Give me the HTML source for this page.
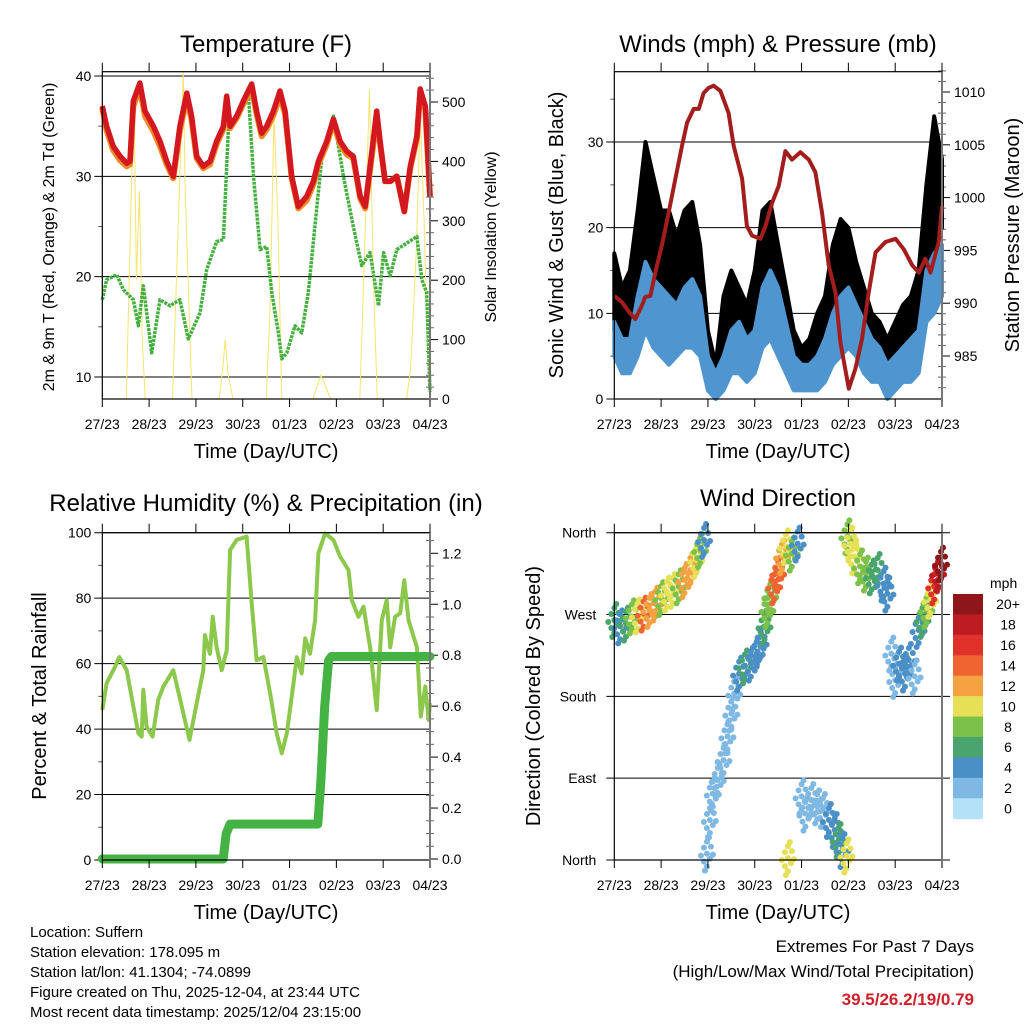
<!DOCTYPE html>
<html><head><meta charset="utf-8"><style>
html,body{margin:0;padding:0;background:#fff;}
svg{display:block;font-family:"Liberation Sans",Arial,sans-serif;}
</style></head><body>
<svg id="chart" width="1024" height="1024" viewBox="0 0 1024 1024" xmlns="http://www.w3.org/2000/svg">
<rect width="1024" height="1024" fill="#fff"/>
<g id="g-temp"></g>
<g id="g-wind"></g>
<g id="g-rh"></g>
<g id="g-wd"></g>
<text x="266" y="52" font-size="24" text-anchor="middle">Temperature (F)</text>
<text x="778" y="52" font-size="24" text-anchor="middle">Winds (mph) &amp; Pressure (mb)</text>
<text x="266" y="511" font-size="24" text-anchor="middle">Relative Humidity (%) &amp; Precipitation (in)</text>
<text x="778" y="506" font-size="24" text-anchor="middle">Wind Direction</text>
<text x="266" y="458" font-size="20" text-anchor="middle">Time (Day/UTC)</text>
<text x="778" y="458" font-size="20" text-anchor="middle">Time (Day/UTC)</text>
<text x="266" y="919" font-size="20" text-anchor="middle">Time (Day/UTC)</text>
<text x="778" y="919" font-size="20" text-anchor="middle">Time (Day/UTC)</text>
<text transform="translate(54,237) rotate(-90)" font-size="16" text-anchor="middle">2m &amp; 9m T (Red, Orange) &amp; 2m Td (Green)</text>
<text transform="translate(496,237) rotate(-90)" font-size="16" text-anchor="middle">Solar Insolation (Yellow)</text>
<text transform="translate(563,235) rotate(-90)" font-size="20" text-anchor="middle">Sonic Wind &amp; Gust (Blue, Black)</text>
<text transform="translate(1019,235) rotate(-90)" font-size="20" text-anchor="middle">Station Pressure (Maroon)</text>
<text transform="translate(46,696) rotate(-90)" font-size="20" text-anchor="middle">Percent &amp; Total Rainfall</text>
<text transform="translate(540,696) rotate(-90)" font-size="20" text-anchor="middle">Direction (Colored By Speed)</text>
<g font-size="15">
<text x="30" y="937">Location: Suffern</text>
<text x="30" y="957">Station elevation: 178.095 m</text>
<text x="30" y="977">Station lat/lon: 41.1304; -74.0899</text>
<text x="30" y="997">Figure created on Thu, 2025-12-04, at 23:44 UTC</text>
<text x="30" y="1017">Most recent data timestamp: 2025/12/04 23:15:00</text>
</g>
<g text-anchor="end">
<text x="974" y="952" font-size="17">Extremes For Past 7 Days</text>
<text x="974" y="977" font-size="17">(High/Low/Max Wind/Total Precipitation)</text>
<text x="974" y="1005" font-size="17" font-weight="bold" fill="#d0202a">39.5/26.2/19/0.79</text>
</g>
</svg>
<script>
// ---------- DATA ----------
const dayLabels = ["27/23","28/23","29/23","30/23","01/23","02/23","03/23","04/23"];
const tempHours = [0,2.2,5.6,9.1,12.5,14.2,15.9,19.3,21.9,26.2,29.6,33,36.4,39.8,43.3,45.8,48.4,51.8,55.2,58.6,62.1,63.8,65.5,68.9,72.3,76.6,79.1,81.7,84.3,87.7,91.1,93.7,97.1,100.5,104.8,108.2,110.8,115.1,118.5,121.9,125.3,128.7,132.2,134.8,137.3,140.7,142.4,145,147.6,151,154.8,157.9,161.3,163,165.6,168];
const temp2m = [37,35,33,32,31.3,31.5,37.5,39.3,36.5,35,33.5,31.5,30,35,38.3,36,32,31,31.5,33.5,35,38,35,36,37.5,39.2,36.5,34.3,35,36.5,38.5,36.5,30,27,28,29.5,31.5,33.5,35.7,33.5,32.5,32,28,27,31,36.5,33.5,29.5,29.5,30,26.5,31,34,38.7,37,28];
const temp9m = [36.8,34.6,32.6,31.6,31,31.2,37,38.8,36,34.5,33,31.2,29.8,34.6,37.8,35.6,31.8,30.8,31.2,33.2,34.7,37.6,34.8,35.8,37.2,38.8,36.2,34,34.7,36.1,38,36.2,29.8,26.8,27.6,29.2,31.2,33.2,35.4,33.2,32.2,31.8,27.8,26.8,30.6,36,33.2,29.5,29.5,30,26.5,30.8,33.8,38.3,36.7,28];
const dewHours = [0,2.2,7.4,10.8,15.9,18.5,21,25.3,29.6,34.7,39.8,44.1,50.1,53.5,58.6,62.1,64.6,70.6,74.9,77.5,80.9,84.3,86.9,90.3,92,94.6,98.8,102.2,105.6,109,112.5,118.5,123.6,128.7,133,137.3,141.6,144.2,147.6,151,161.3,163.8,166.3,168];
const dewPoint = [17.7,19.7,20.2,18.7,17.7,15.1,19.1,12.4,17.7,17.1,17.7,13.8,16.4,20.7,23.5,23.7,34.6,36.3,38.3,30,22.7,23,18.4,14.4,11.8,12.4,15.1,14.4,18.4,25,31.7,36,30,25,21.1,22.4,17.1,22.4,20.1,22.7,24,19.7,18.4,8.5];
const solarHours = [0,12.3,14.5,16.2,17.5,19,20.5,22,36,38.5,41.5,42.5,44,46,60,62,63,64.5,67,84,86,88,90,92,108,110,112,114,117,132,134,137,139,141,156,158,161,163,165,166.5,168];
const solarVals = [0,0,300,520,200,350,100,0,0,250,550,350,200,0,0,60,100,40,0,0,150,480,300,0,0,20,40,25,0,0,200,520,200,0,0,50,250,480,300,100,0];
const windHours = [0,4,8,12,16,20,24,28,32,36,40,44,48,52,56,60,64,68,72,76,80,84,88,92,96,100,104,108,112,116,120,124,128,132,136,140,144,148,152,156,160,164,168];
const windLo = [5,3,3,5,8,6,5,4,5,6,6,5,1,0,1,3,3,2,3,6,7,5,3,1,1,1,1,2,4,5,6,5,3,2,2,0,1,2,2,3,9,10,12];
const windHi = [9,7,7,12,16,14,13,12,11,13,14,12,5,3,5,8,9,7,8,13,15,13,9,5,4,4,5,7,10,12,13,11,9,7,6,4,5,6,7,8,15,17,18];
const gustLo = [8,6,7,10,14,12,11,10,9,11,11,8,2,2,3,5,4,4,6,12,12,9,5,2,2,3,4,4,8,10,9,7,6,4,3,2,4,5,6,7,14,18,20];
const gustHi = [17,13,15,22,30,26,22,22,19,22,23,18,8,4,12,15,13,11,15,22,23,18,13,8,6,7,10,12,18,21,20,16,13,10,9,7,9,11,12,15,25,33,28];
const presHours = [0,3.9,7.4,10.8,14.2,15.9,18.5,21,24.4,27.9,31.3,34.7,37.3,40.7,43.3,45.8,48.4,50.9,54.4,58.6,61.2,65.5,68,70.6,74.9,77.5,80.9,84.3,87.7,91.1,95.4,99.7,103.1,106.5,109.9,113.4,115.9,120.2,123.6,127,130.4,133.9,139,144.2,148.4,152.7,156.1,159.5,162.1,166.3,168];
const pressure = [990.7,990.1,989.2,988.5,989.8,990.6,990.7,992.9,995.5,998.6,1001.8,1004.9,1007.1,1008.4,1008.4,1009.9,1010.4,1010.6,1010.1,1008,1004.9,1001.8,997.3,996.4,996.1,997.3,999.5,1001.1,1004.4,1003.6,1004.3,1003.6,1002.4,998.6,993.6,991,986.3,981.9,983.8,986.6,991,994.8,995.8,996.1,995.1,993.6,992.9,994.2,992.9,995.8,999.2];
const rhHours = [0,2.2,6.5,8.7,12.5,15.9,18.5,20.2,21,22.7,25.8,28.7,31.3,36.4,40.7,44.7,48.4,51.8,52.6,55.2,56.6,58.6,61.2,63.8,65.5,68.9,74,76.6,79.1,82.6,86,89.4,92,94.6,98,99.7,102.2,104,106.5,109.1,110.8,114.2,118.5,121.9,126.2,127.9,131.3,133.9,137.3,140.7,143.3,145.8,147.6,150.1,152.7,154.8,157,161.3,163.3,165.6,167.3,168];
const rhVals = [45.8,54,59,62,58,47,38.7,37.7,52,40.7,37.7,49,53,58,47,36.7,47.9,58,68.7,63,74.3,65,58,64,94.7,97.8,98.8,78.4,61,62,51,38.7,32.6,38.7,54,62,57,67.7,63,73.3,93.7,99.8,97.8,92.7,88.6,79.4,74.3,77.4,65,45.8,73.3,79.4,65,74.3,75.4,85.5,73.3,65,43.8,53,42.8,47.9];
const precipHours = [0,62,63.5,65.5,110.5,112,114,116,117.5,168];
const precipVals = [0,0,0.1,0.137,0.137,0.3,0.6,0.78,0.795,0.795];
const wdHours = [0,3,6,9,12,15,18,21,24,27,30,33,36,39,42,44,46,47.5,49,50.5,53,56,58,60,61.5,64,67,70,73,75,77,78.5,80,82,84,86,88,91,94,96,98,101,104,107,110,113,115,117,119,89,119.5,121,123,126,129,132,135,138,140,142,144,146,149,151,154,156,158,160,162,164,166,167.5];
const wdDir = [264,257,260,268,269,271,275,282,288,293,297,301,308,319,330,341,352,7,44,73,88,110,136,161,183,205,213,216,227,238,257,275,290,301,315,334,345,337,348,70,51,66,59,55,44,33,22,11,5,2,356,348,334,323,315,312,319,304,293,227,198,216,205,220,202,253,264,275,286,301,315,326];
const wdSpeed = [6,5,6,8,10,14,12,12,8,10,10,8,12,12,10,8,4,2,2,2,2,2,2,2,2,4,6,4,4,4,6,8,8,14,14,12,10,8,4,2,2,2,2,2,4,4,6,4,10,10,8,10,10,8,8,6,6,4,4,2,2,4,4,4,2,4,6,8,10,16,18,20];
const speedColors = ["#b5e1f8","#7fb9e3","#4a8fc6","#49a46e","#7cc14a","#e6e056","#f5a342","#ef6430","#e0312b","#bd1c22","#8e1519"];
const speedLabels = ["0","2","4","6","8","10","12","14","16","18","20+"];
const dirLabels = ["North","East","South","West","North"];

// ---------- HELPERS ----------
const NS="http://www.w3.org/2000/svg";
function mk(tag,attrs,parent){const e=document.createElementNS(NS,tag);for(const k in attrs)e.setAttribute(k,attrs[k]);parent.appendChild(e);return e;}
function lin(d0,d1,r0,r1){return v=>r0+(v-d0)/(d1-d0)*(r1-r0);}
const X0L=102.3,X0R=614.3,W=327.7;
function xs(x0){return lin(0,168,x0,x0+W);}
function pathFrom(hs,vs,sx,sy){return hs.map((h,i)=>(i?"L":"M")+sx(h).toFixed(1)+","+sy(vs[i]).toFixed(1)).join("");}

function frame(g,x0,top,bot,name){
  const sx=xs(x0);
  for(let i=0;i<8;i++){
    const x=sx(i*24);
    let t=mk("line",{x1:x,x2:x,y1:top-9,y2:top,stroke:"#000","stroke-width":1},g);
    
    
    t=mk("line",{x1:x,x2:x,y1:bot,y2:bot+8,stroke:"#000","stroke-width":1},g);
    
    
    const lb=mk("text",{x:x,y:bot+30,"font-size":14,"text-anchor":"middle"},g);
    lb.textContent=dayLabels[i];
    
    
  }
  const r=mk("rect",{x:x0,y:top,width:W,height:bot-top,fill:"none",stroke:"#000","stroke-width":1.2},g);
  
  
  const ra=mk("line",{x1:x0+W,x2:x0+W,y1:top,y2:bot+8,stroke:"#777","stroke-width":2},g);
  
  
}
function leftAxis(g,x0,x1,sy,ticks,fmt,grid,minor){
  ticks.forEach(v=>{
    const y=sy(v);
    if(grid){const l=mk("line",{x1:x0-8,x2:x1,y1:y,y2:y,stroke:"#000","stroke-width":1},g);
      
      }
    const t=mk("text",{x:x0-11,y:y+5,"font-size":14,"text-anchor":"end"},g);
    t.textContent=fmt(v);
    
    
  });
  (minor||[]).forEach(v=>{const y=sy(v);const l=mk("line",{x1:x0-4,x2:x0,y1:y,y2:y,stroke:"#555"},g);
    
    });
}
function rightAxis(g,x,sy,ticks,fmt,minor){
  ticks.forEach(v=>{const y=sy(v);
    const l=mk("line",{x1:x,x2:x+8,y1:y,y2:y,stroke:"#000"},g);
    
    
    const t=mk("text",{x:x+12,y:y+5,"font-size":14},g);t.textContent=fmt(v);
    
    });
  minor.forEach(v=>{const y=sy(v);const l=mk("line",{x1:x-4,x2:x+4,y1:y,y2:y,stroke:"#666"},g);
    
    });
}
function range(a,b,s){const r=[];for(let v=a;v<=b+1e-9;v+=s)r.push(+v.toFixed(4));return r;}

// ---------- TEMPERATURE ----------
(function(){
  const g=document.getElementById("g-temp");
  const sx=xs(X0L), sy=lin(40,10,76,377), ss=lin(0,500,399,102);
  const top=71.7,bot=399;
  leftAxis(g,X0L,X0L+W,sy,[10,20,30,40],v=>v,true,[15,25,35]);
  rightAxis(g,X0L+W,ss,[0,100,200,300,400,500],v=>v,range(20,540,20).filter(v=>v%100));
  let p=mk("path",{d:pathFrom(solarHours,solarVals,sx,ss),fill:"none",stroke:"#f9e46a","stroke-width":1},g);
  
  
  p=mk("path",{d:pathFrom(dewHours,dewPoint,sx,sy),fill:"none",stroke:"#45b03f","stroke-width":3.5,"stroke-dasharray":"3 1","stroke-linejoin":"round"},g);
  
  
  p=mk("path",{d:pathFrom(tempHours,temp9m,sx,sy),fill:"none",stroke:"#f08a24","stroke-width":6,"stroke-linejoin":"round"},g);
  
  
  p=mk("path",{d:pathFrom(tempHours,temp2m,sx,sy),fill:"none",stroke:"#d4181f","stroke-width":5.5,"stroke-linejoin":"round"},g);
  
  
  frame(g,X0L,top,bot,'temp');
})();

// ---------- WIND ----------
(function(){
  const g=document.getElementById("g-wind");
  const sx=xs(X0R), sy=lin(0,30,399,142), sp=lin(1010,985,92,356);
  leftAxis(g,X0R,X0R+W,sy,[0,10,20,30],v=>v,true,[5,15,25,35]);
  rightAxis(g,X0R+W,sp,[985,990,995,1000,1005,1010],v=>v,range(982,1012,1).filter(v=>v%5));
  function band(lo,hi,col,name){
    let d=windHours.map((h,i)=>(i?"L":"M")+sx(h).toFixed(1)+","+sy(hi[i]).toFixed(1)).join("");
    for(let i=windHours.length-1;i>=0;i--)d+="L"+sx(windHours[i]).toFixed(1)+","+sy(lo[i]).toFixed(1);
    const p=mk("path",{d:d+"Z",fill:col,stroke:col,"stroke-width":4,"stroke-linejoin":"round"},g);
    
    
  }
  band(gustLo,gustHi,"#000","gust-band");
  band(windLo,windHi,"#4f96d0","wind-speed-band");
  const p=mk("path",{d:pathFrom(presHours,pressure,sx,sp),fill:"none",stroke:"#a31d1d","stroke-width":4,"stroke-linejoin":"round"},g);
  
  
  frame(g,X0R,71.7,399,'wind');
})();

// ---------- RH / PRECIP ----------
(function(){
  const g=document.getElementById("g-rh");
  const sx=xs(X0L), sy=lin(0,100,860,532.7), sr=lin(0,1.2,859,553.3);
  leftAxis(g,X0L,X0L+W,sy,[0,20,40,60,80,100],v=>v,true,[10,30,50,70,90]);
  rightAxis(g,X0L+W,sr,[0,0.2,0.4,0.6,0.8,1.0,1.2],v=>v.toFixed(1),range(0.05,1.25,0.05).filter(v=>Math.round(v*100)%20));
  let p=mk("path",{d:pathFrom(rhHours,rhVals,sx,sy),fill:"none",stroke:"#8cc84b","stroke-width":4,"stroke-linejoin":"round"},g);
  
  
  p=mk("path",{d:pathFrom(precipHours,precipVals,sx,sr),fill:"none",stroke:"#44b343","stroke-width":9,"stroke-linejoin":"round","stroke-linecap":"round"},g);
  
  
  frame(g,X0L,532.7,860,'rh');
})();

// ---------- WIND DIRECTION ----------
(function(){
  const g=document.getElementById("g-wd");
  const sx=xs(X0R), sy=lin(0,360,860,532.7);
  [0,90,180,270,360].forEach((v,i)=>{
    const y=sy(v);
    const l=mk("line",{x1:X0R-8,x2:X0R+W+8,y1:y,y2:y,stroke:"#000"},g);
    
    
    const t=mk("text",{x:X0R-18,y:y+5,"font-size":14,"text-anchor":"end"},g);
    t.textContent=dirLabels[i];
    
    
  });
  const offs=[[0,0],[-3,-6],[3,5],[-3,8],[4,-7],[0,13],[0,-12],[-6,2],[6,1],[-2,17],[2,-16]];
  wdHours.forEach((h,i)=>{
    const col=speedColors[Math.min(10,Math.floor(wdSpeed[i]/2))];
    offs.forEach(o=>{
      const c=mk("circle",{cx:sx(h)+o[0],cy:sy(wdDir[i])+o[1],r:3,fill:col},g);
      
      
    });
  });
  frame(g,X0R,532.7,860,'wd');
  const lg=mk("g",{},g);
  
  
  const t=mk("text",{x:990,y:588,"font-size":14},lg);t.textContent="mph";
  
  
  const bh=(818.7-594)/11;
  for(let k=0;k<11;k++){
    const idx=10-k, y=594+k*bh;
    const r=mk("rect",{x:953,y:y,width:30,height:bh+0.5,fill:speedColors[idx]},lg);
    
    
    const l=mk("text",{x:1008,y:y+bh/2+5,"font-size":14,"text-anchor":"middle"},lg);
    l.textContent=speedLabels[idx];
    
    
  }
})();
</script>
</body></html>
